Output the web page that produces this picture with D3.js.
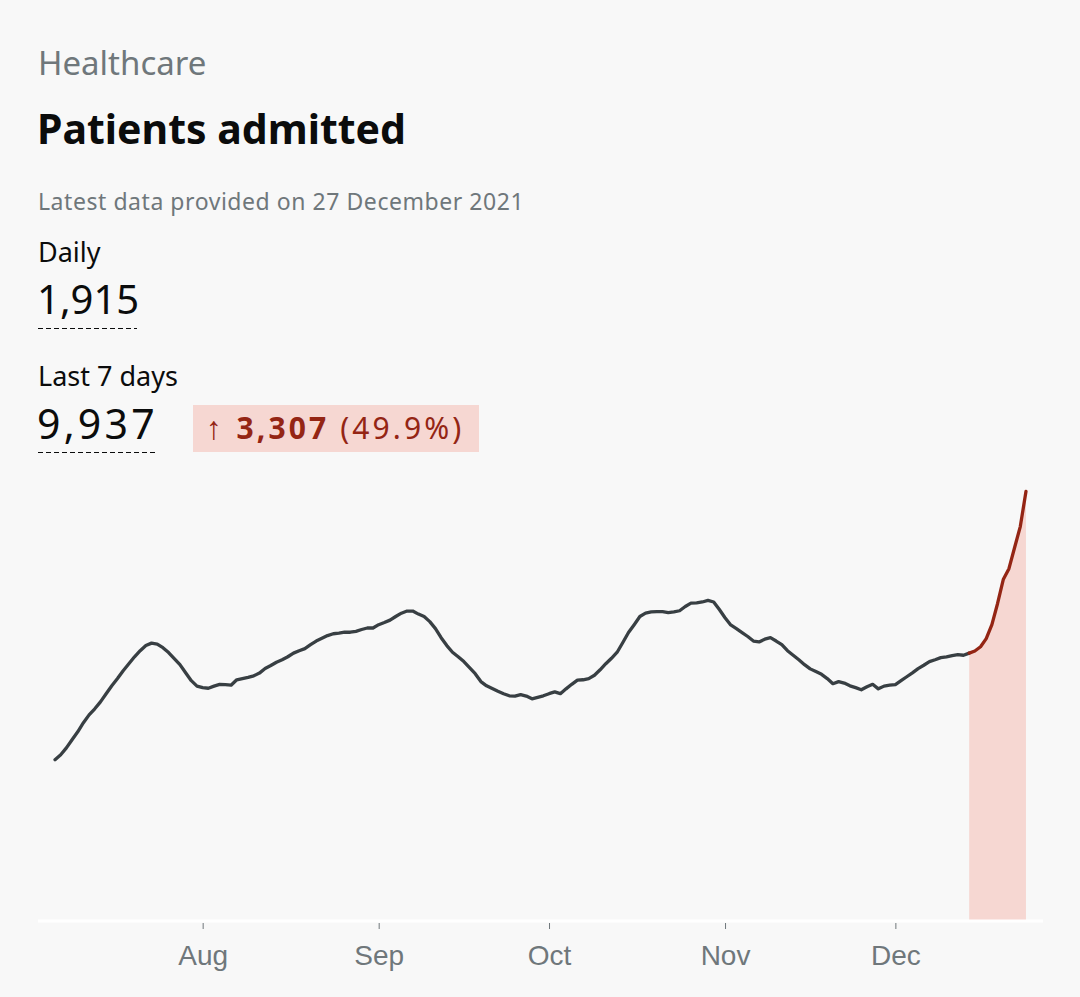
<!DOCTYPE html>
<html>
<head>
<meta charset="utf-8">
<script src="https://cdn.jsdelivr.net/npm/d3@7"></script>
<style>
  html, body { margin: 0; padding: 0; background: #f8f8f8; }
  svg { display: block; }
</style>
</head>
<body>
<svg id="chart" width="1080" height="997"></svg>
<script>
// ---- Data ----
const category = "Healthcare";
const title = "Patients admitted";
const subtitle = "Latest data provided on 27 December 2021";
const dailyLabel = "Daily";
const dailyValue = "1,915";
const weekLabel = "Last 7 days";
const weekValue = "9,937";
const changeValue = "3,307";
const changePct = "(49.9%)";

const startDate = "2021-07-06";   // first point
const highlightFrom = "2021-12-14"; // start of latest (red) period
const tickLabels = ["Aug", "Sep", "Oct", "Nov", "Dec"];
const tickDates = ["2021-08-01", "2021-09-01", "2021-10-01", "2021-11-01", "2021-12-01"];
const domainDates = ["2021-07-03", "2021-12-27"];

// daily values (7-day average of admissions), from 6 Jul to 24 Dec 2021
const values = [
  533, 549, 572, 599, 625, 655, 681, 701, 724, 751, 777, 801, 827, 850, 873, 893, 910, 918,
  915, 903, 887, 867, 847, 820, 794, 776, 771, 769, 776, 782, 781, 779, 797, 801, 805, 810,
  819, 834, 844, 855, 863, 873, 885, 893, 900, 913, 925, 934, 943, 949, 951, 954, 954, 957,
  963, 968, 968, 979, 986, 994, 1006, 1017, 1024, 1024, 1014, 1006, 989, 966, 936, 910, 888,
  873, 857, 837, 817, 791, 777, 768, 759, 751, 744, 743, 748, 743, 734, 739, 744, 751, 757,
  751, 767, 782, 796, 797, 801, 812, 830, 850, 868, 888, 920, 953, 979, 1006, 1017, 1021,
  1022, 1022, 1019, 1021, 1025, 1039, 1050, 1051, 1054, 1059, 1054, 1029, 1002, 978, 966,
  953, 940, 925, 922, 931, 936, 925, 913, 893, 878, 863, 847, 833, 824, 815, 801, 784, 791,
  786, 777, 771, 764, 774, 782, 767, 776, 779, 781, 794, 807, 820, 834, 845, 857, 863, 870,
  873, 877, 880, 878, 885, 892, 906, 933, 979, 1049, 1128, 1164, 1234, 1303, 1419
];

// ---- Build ----
const parse = d3.utcParse("%Y-%m-%d");
const t0 = parse(startDate);
const data = values.map((v, i) => ({ date: d3.utcDay.offset(t0, i), value: v }));
const hiDate = parse(highlightFrom);
const recent = data.filter(d => d.date >= hiDate);

const svg = d3.select("#chart");
const font = "'Noto Sans', sans-serif";
const grey = "#6f777b";
const red = "#942514";
const pink = "#f6d7d2";

// header texts
svg.append("text").attr("x", 38).attr("y", 75).attr("font-family", font)
  .attr("font-size", 33).attr("fill", grey).text(category);
svg.append("text").attr("x", 37).attr("y", 144).attr("font-family", font)
  .attr("font-size", 41).attr("font-weight", 700).attr("fill", "#0b0c0c").text(title);
svg.append("text").attr("x", 38).attr("y", 210).attr("font-family", font)
  .attr("font-size", 23).attr("letter-spacing", 0.55).attr("fill", grey).text(subtitle);

svg.append("text").attr("x", 38).attr("y", 262).attr("font-family", font)
  .attr("font-size", 27).attr("fill", "#0b0c0c").text(dailyLabel);
svg.append("text").attr("x", 37).attr("y", 314).attr("font-family", font)
  .attr("font-size", 40).attr("fill", "#0b0c0c").text(dailyValue);
svg.append("line").attr("x1", 38).attr("x2", 137).attr("y1", 328.5).attr("y2", 328.5)
  .attr("stroke", "#0b0c0c").attr("stroke-width", 1.2).attr("stroke-dasharray", "5,3");

svg.append("text").attr("x", 38).attr("y", 386).attr("font-family", font)
  .attr("font-size", 27).attr("fill", "#0b0c0c").text(weekLabel);
svg.append("text").attr("x", 37).attr("y", 439).attr("font-family", font)
  .attr("font-size", 41).attr("letter-spacing", 3.2).attr("fill", "#0b0c0c").text(weekValue);
svg.append("line").attr("x1", 38).attr("x2", 156).attr("y1", 452.5).attr("y2", 452.5)
  .attr("stroke", "#0b0c0c").attr("stroke-width", 1.2).attr("stroke-dasharray", "5,3");

svg.append("rect").attr("x", 193).attr("y", 405).attr("width", 286).attr("height", 47)
  .attr("fill", pink);
const ct = svg.append("text").attr("x", 206).attr("y", 439).attr("font-family", font)
  .attr("font-size", 30).attr("letter-spacing", 3.1).attr("fill", red);
ct.append("tspan").attr("font-size", 32).text("↑ ");
ct.append("tspan").attr("font-weight", 700).text(changeValue);
ct.append("tspan").text(" " + changePct);

// chart
const x = d3.scaleUtc().domain(domainDates.map(parse)).range([38, 1043]);
const y = d3.scaleLinear().domain([0, d3.max(values)]).range([921, 491.5]);

svg.append("path").datum(recent)
  .attr("fill", pink)
  .attr("d", d3.area().x(d => x(d.date)).y0(y(0)).y1(d => y(d.value)));

// axis
const axis = d3.axisBottom(x)
  .tickValues(tickDates.map(parse))
  .tickFormat((d, i) => tickLabels[i])
  .tickSize(8).tickPadding(8);
const gx = svg.append("g").attr("transform", `translate(0,${y(0)})`).call(axis);
gx.select(".domain").attr("stroke", "#ffffff").attr("stroke-width", 3)
  .attr("d", `M38,0H1043`);
gx.selectAll(".tick line").attr("stroke", grey).attr("stroke-width", 1).attr("y1", 2);
gx.selectAll(".tick text").attr("font-family", "'Liberation Sans', Arial, sans-serif")
  .attr("font-size", 28).attr("fill", grey).attr("dy", "1em");

const line = d3.line().x(d => x(d.date)).y(d => y(d.value));
const older = data.filter(d => d.date <= hiDate);
svg.append("path").datum(older).attr("fill", "none").attr("stroke", "#383f43")
  .attr("stroke-width", 3.3).attr("stroke-linejoin", "round").attr("stroke-linecap", "round")
  .attr("d", line);
svg.append("path").datum(recent).attr("fill", "none").attr("stroke", red)
  .attr("stroke-width", 3.3).attr("stroke-linejoin", "round").attr("stroke-linecap", "round")
  .attr("d", line);
</script>
</body>
</html>
